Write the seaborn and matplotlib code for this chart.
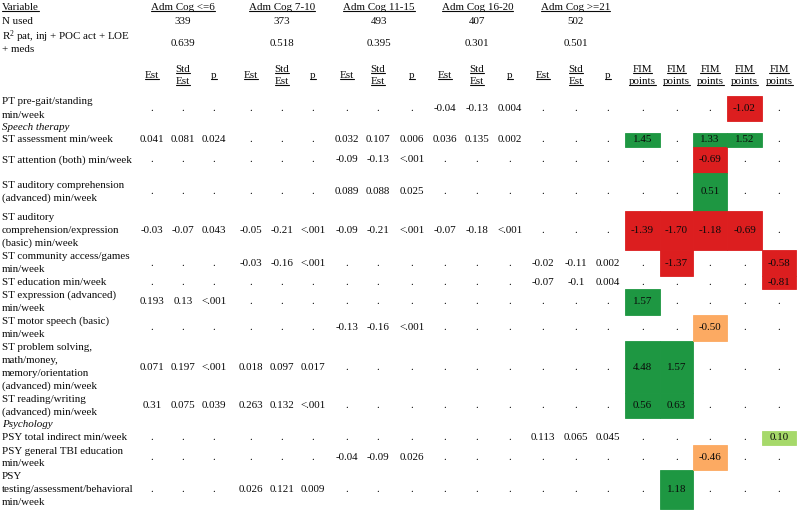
import numpy as np
import matplotlib
matplotlib.use("Agg")
import matplotlib.pyplot as plt
import seaborn as sns

# ---- table contents -------------------------------------------------------
groups = ["Adm Cog <=6", "Adm Cog 7-10", "Adm Cog 11-15", "Adm Cog 16-20", "Adm Cog >=21"]
n_used = ["339", "373", "493", "407", "502"]
r_squared = ["0.639", "0.518", "0.395", "0.301", "0.501"]

row_labels = [
    ["PT pre-gait/standing", "min/week"],
    ["Speech therapy"],
    ["ST assessment min/week"],
    ["ST attention (both) min/week"],
    ["ST auditory comprehension", "(advanced) min/week"],
    ["ST auditory", "comprehension/expression", "(basic) min/week"],
    ["ST community access/games", "min/week"],
    ["ST education min/week"],
    ["ST expression (advanced)", "min/week"],
    ["ST motor speech (basic)", "min/week"],
    ["ST problem solving,", "math/money,", "memory/orientation", "(advanced) min/week"],
    ["ST reading/writing", "(advanced) min/week"],
    ["Psychology"],
    ["PSY total indirect min/week"],
    ["PSY general TBI education", "min/week"],
    ["PSY", "testing/assessment/behavioral", "min/week"],
]
section_rows = [1, 12]

# "." = not in model, "" = section heading row
cog_le6_est = [".", "", "0.041", ".", ".", "-0.03", ".", ".", "0.193", ".", "0.071", "0.31", "", ".", ".", "."]
cog_le6_std = [".", "", "0.081", ".", ".", "-0.07", ".", ".", "0.13", ".", "0.197", "0.075", "", ".", ".", "."]
cog_le6_p = [".", "", "0.024", ".", ".", "0.043", ".", ".", "<.001", ".", "<.001", "0.039", "", ".", ".", "."]

cog_7_10_est = [".", "", ".", ".", ".", "-0.05", "-0.03", ".", ".", ".", "0.018", "0.263", "", ".", ".", "0.026"]
cog_7_10_std = [".", "", ".", ".", ".", "-0.21", "-0.16", ".", ".", ".", "0.097", "0.132", "", ".", ".", "0.121"]
cog_7_10_p = [".", "", ".", ".", ".", "<.001", "<.001", ".", ".", ".", "0.017", "<.001", "", ".", ".", "0.009"]

cog_11_15_est = [".", "", "0.032", "-0.09", "0.089", "-0.09", ".", ".", ".", "-0.13", ".", ".", "", ".", "-0.04", "."]
cog_11_15_std = [".", "", "0.107", "-0.13", "0.088", "-0.21", ".", ".", ".", "-0.16", ".", ".", "", ".", "-0.09", "."]
cog_11_15_p = [".", "", "0.006", "<.001", "0.025", "<.001", ".", ".", ".", "<.001", ".", ".", "", ".", "0.026", "."]

cog_16_20_est = ["-0.04", "", "0.036", ".", ".", "-0.07", ".", ".", ".", ".", ".", ".", "", ".", ".", "."]
cog_16_20_std = ["-0.13", "", "0.135", ".", ".", "-0.18", ".", ".", ".", ".", ".", ".", "", ".", ".", "."]
cog_16_20_p = ["0.004", "", "0.002", ".", ".", "<.001", ".", ".", ".", ".", ".", ".", "", ".", ".", "."]

cog_ge21_est = [".", "", ".", ".", ".", ".", "-0.02", "-0.07", ".", ".", ".", ".", "", "0.113", ".", "."]
cog_ge21_std = [".", "", ".", ".", ".", ".", "-0.11", "-0.1", ".", ".", ".", ".", "", "0.065", ".", "."]
cog_ge21_p = [".", "", ".", ".", ".", ".", "0.002", "0.004", ".", ".", ".", ".", "", "0.045", ".", "."]

nan = np.nan
fim_le6 = [nan, nan, 1.45, nan, nan, -1.39, nan, nan, 1.57, nan, 4.48, 0.56, nan, nan, nan, nan]
fim_7_10 = [nan, nan, nan, nan, nan, -1.70, -1.37, nan, nan, nan, 1.57, 0.63, nan, nan, nan, 1.18]
fim_11_15 = [nan, nan, 1.33, -0.69, 0.51, -1.18, nan, nan, nan, -0.50, nan, nan, nan, nan, -0.46, nan]
fim_16_20 = [-1.02, nan, 1.52, nan, nan, -0.69, nan, nan, nan, nan, nan, nan, nan, nan, nan, nan]
fim_ge21 = [nan, nan, nan, nan, nan, nan, -0.58, -0.81, nan, nan, nan, nan, nan, 0.10, nan, nan]

stats = [
    (cog_le6_est, cog_le6_std, cog_le6_p),
    (cog_7_10_est, cog_7_10_std, cog_7_10_p),
    (cog_11_15_est, cog_11_15_std, cog_11_15_p),
    (cog_16_20_est, cog_16_20_std, cog_16_20_p),
    (cog_ge21_est, cog_ge21_std, cog_ge21_p),
]
fims = [fim_le6, fim_7_10, fim_11_15, fim_16_20, fim_ge21]

# ---- layout (pixel coordinates, y downwards) ------------------------------
row_edges = [96, 121, 133, 147, 173, 211, 250, 276, 289, 315, 341, 393, 418, 431, 445, 470, 509]
stat_x = [[152, 183, 214], [251, 282, 313], [347, 378, 412], [445, 477, 510], [543, 576, 608]]
fim_edges = [625, 660, 693, 727, 762, 796]
line_h = 13


def fim_color(v):
    if v >= 0.5:
        return "#1e9742"
    if v > 0:
        return "#a6d96a"
    if v > -0.55:
        return "#fcaa62"
    return "#dc1e1f"


sns.set_theme(style="white")
plt.rcParams["font.family"] = ["Liberation Serif", "DejaVu Serif"]
plt.rcParams["mathtext.fontset"] = "custom"
plt.rcParams["mathtext.rm"] = "Liberation Serif"
plt.rcParams["mathtext.default"] = "regular"
fs = 7.9
ink = "#0a0a0a"

fig = plt.figure(figsize=(8, 5.14), dpi=100)
ax = fig.add_axes([0, 0, 1, 1])
ax.set_xlim(0, 800)
ax.set_ylim(514, 0)
ax.axis("off")

to_underline = []


def txt(x, y, s, ha="center", ul=False, **kw):
    t = ax.text(x, y, s, ha=ha, va="center", fontsize=fs, color=ink, **kw)
    if ul:
        to_underline.append(t)
    return t


# header block
txt(2, 8, "Variable", ha="left", ul=True)
txt(2, 22, "N used", ha="left")
txt(2, 37, "R$^{2}$ pat, inj + POC act + LOE", ha="left")
txt(2, 50, "+ meds", ha="left")
for g, name in enumerate(groups):
    cx = np.mean(stat_x[g])
    txt(cx, 8, name, ul=True)
    txt(cx, 22, n_used[g])
    txt(cx, 43, r_squared[g])
    xe, xs, xp = stat_x[g]
    txt(xe, 76, "Est", ul=True)
    txt(xs, 70, "Std", ul=True)
    txt(xs, 82, "Est", ul=True)
    txt(xp, 76, "p", ul=True)
fim_x = [(fim_edges[j] + fim_edges[j + 1]) / 2 for j in range(5)]
for cx in fim_x:
    txt(cx, 70, "FIM", ul=True)
    txt(cx, 82, "points", ul=True)

# colored FIM cells
for j, vals in enumerate(fims):
    for i, v in enumerate(vals):
        if np.isnan(v):
            continue
        top, bot = row_edges[i], row_edges[i + 1]
        c = fim_color(v)
        ax.bar(fim_x[j], bot - top, bottom=top, width=fim_edges[j + 1] - fim_edges[j],
               color=c, edgecolor=c, linewidth=0.6, zorder=1)

# body rows
for i, lines in enumerate(row_labels):
    top, bot = row_edges[i], row_edges[i + 1]
    cy = (top + bot) / 2
    n = len(lines)
    for k, line in enumerate(lines):
        y = cy + (k - (n - 1) / 2) * line_h
        txt(2, y, line, ha="left", style="italic" if i in section_rows else "normal")
    if i in section_rows:
        continue
    for g in range(5):
        for c in range(3):
            txt(stat_x[g][c], cy, stats[g][c][i], zorder=3)
    for j in range(5):
        v = fims[j][i]
        txt(fim_x[j], cy, "." if np.isnan(v) else f"{v:.2f}", zorder=3)

# underline header labels
fig.canvas.draw()
renderer = fig.canvas.get_renderer()
inv = ax.transData.inverted()
for t in to_underline:
    bb = t.get_window_extent(renderer).transformed(inv)
    yb = max(bb.y0, bb.y1) - 1.2
    ax.plot([bb.x0, bb.x1], [yb, yb], color=ink, linewidth=0.8)

fig.savefig("out.png", dpi=100)
